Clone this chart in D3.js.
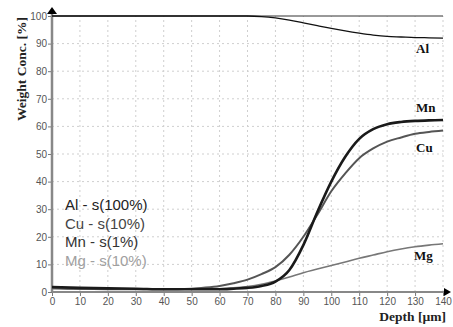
<!DOCTYPE html>
<html>
<head>
<meta charset="utf-8">
<script src="https://cdn.jsdelivr.net/npm/d3@7"></script>
<style>
  body { margin: 0; background: #fff; }
  svg { display: block; }
</style>
</head>
<body>
<svg id="chart" width="453" height="327"></svg>
<script>
// depth in µm, concentration in %
const depth = [0, 10, 20, 30, 40, 50, 55, 60, 65, 70, 75, 80, 85, 90, 95, 100, 105, 110, 115, 120, 125, 130, 135, 140];
const al = [100, 100, 100, 100, 100, 100, 100, 100, 100, 100, 99.8, 99.3, 98.5, 97.5, 96.5, 95.5, 94.6, 93.8, 93.1, 92.6, 92.4, 92.2, 92.1, 92];
const cu = [1.5, 1.2, 1, 1, 1, 1.2, 1.6, 2.2, 3.2, 4.5, 6.5, 9, 13.5, 20, 28, 36.5, 43, 48.5, 52, 54.5, 56, 57.3, 58, 58.5];
const mn = [1.8, 1.5, 1.3, 1.2, 1, 1, 1, 1, 1.2, 1.5, 2.2, 3.8, 8, 17, 29, 40, 49, 55.5, 59, 60.8, 61.6, 62, 62.2, 62.3];
const mg = [1.2, 1, 1, 1, 1, 1, 1, 1.2, 1.5, 2, 2.8, 4, 5.4, 7, 8.3, 9.6, 10.9, 12.2, 13.4, 14.6, 15.6, 16.4, 17, 17.5];

const xTicks = d3.range(0, 141, 10);
const yTicks = d3.range(0, 101, 10);

const legendText = ['Al - s(100%)', 'Cu - s(10%)', 'Mn - s(1%)', 'Mg - s(10%)'];
const lineColor = { Al: '#111', Cu: '#555', Mn: '#1a1a1a', Mg: '#777' };
const lineWidth = { Al: 1.3, Cu: 2, Mn: 2.6, Mg: 1.6 };
const legendColor = ['#222', '#444', '#333', '#a0a0a0'];
const endLabels = [
  { name: 'Al', dx: 0, y: 92, off: 15 },
  { name: 'Mn', dx: 0, y: 62.3, off: -8 },
  { name: 'Cu', dx: 0, y: 58.5, off: 21 },
  { name: 'Mg', dx: -2, y: 17.5, off: 16 }
];

const svg = d3.select('#chart');
const x = d3.scaleLinear().domain([0, 140]).range([52, 443]);
const y = d3.scaleLinear().domain([0, 100]).range([292, 16]);

// grid
const grid = svg.append('g').attr('class', 'grid')
  .attr('stroke', '#cfcfcf').attr('stroke-dasharray', '2,3').attr('stroke-width', 1);
grid.selectAll('line.v').data(xTicks.slice(1)).enter().append('line')
  .attr('x1', d => x(d)).attr('x2', d => x(d)).attr('y1', y(0)).attr('y2', y(100));
grid.selectAll('line.h').data(yTicks.slice(1, -1)).enter().append('line')
  .attr('x1', x(0)).attr('x2', x(140)).attr('y1', d => y(d)).attr('y2', d => y(d));

// top border at 100 %
svg.append('line')
  .attr('x1', x(0)).attr('x2', x(140)).attr('y1', y(100)).attr('y2', y(100))
  .attr('stroke', '#333').attr('stroke-width', 1);

// axes
const yAxis = svg.append('g').attr('transform', `translate(${x(0)},0)`)
  .call(d3.axisLeft(y).tickValues(yTicks).tickSize(4).tickPadding(1));
const xAxis = svg.append('g').attr('transform', `translate(0,${y(0)})`)
  .call(d3.axisBottom(x).tickValues(xTicks).tickSize(4).tickPadding(2));
[yAxis, xAxis].forEach(a => {
  a.select('.domain').remove();
  a.selectAll('line').attr('stroke', '#777');
  a.selectAll('text').attr('fill', '#555')
    .style('font-family', 'Liberation Sans, Arial, sans-serif').style('font-size', '10px');
});

svg.append('line').attr('x1', x(0)).attr('x2', x(0)).attr('y1', 12).attr('y2', y(0))
  .attr('stroke', '#888').attr('stroke-width', 2.5);
svg.append('line').attr('x1', x(0)).attr('x2', 446).attr('y1', y(0)).attr('y2', y(0))
  .attr('stroke', '#888').attr('stroke-width', 2);
svg.append('path').attr('d', `M${x(0) - 5},14 L${x(0)},7 L${x(0) + 5},14 Z`).attr('fill', '#000');
svg.append('path').attr('d', `M444,${y(0) - 4} L451,${y(0)} L444,${y(0) + 4} Z`).attr('fill', '#000');

// curves
const line = d3.line().curve(d3.curveMonotoneX)
  .x((d, i) => x(depth[i])).y(d => y(d));
const values = { Al: al, Cu: cu, Mn: mn, Mg: mg };
['Mg', 'Cu', 'Mn', 'Al'].forEach(n => {
  svg.append('path').datum(values[n]).attr('d', line)
    .attr('fill', 'none').attr('stroke', lineColor[n]).attr('stroke-width', lineWidth[n]);
});

// end labels
svg.selectAll('text.end').data(endLabels).enter().append('text')
  .attr('x', d => 416 + d.dx).attr('y', d => y(d.y) + d.off)
  .attr('text-anchor', 'start')
  .style('font-family', 'Liberation Serif, Times New Roman, serif')
  .style('font-weight', 'bold').style('font-size', '13px').attr('fill', '#111')
  .text(d => d.name);

// legend
svg.selectAll('text.leg').data(legendText).enter().append('text')
  .attr('x', 65).attr('y', (d, i) => 210 + i * 18.5)
  .style('font-family', 'Liberation Sans, Arial, sans-serif').style('font-size', '15px')
  .attr('fill', (d, i) => legendColor[i])
  .text(d => d);

// axis titles
svg.append('text')
  .attr('transform', 'translate(26,69) rotate(-90)')
  .attr('text-anchor', 'middle')
  .style('font-family', 'Liberation Serif, Times New Roman, serif')
  .style('font-weight', 'bold').style('font-size', '13.5px').attr('fill', '#222')
  .text('Weight Conc. [%]');
svg.append('text')
  .attr('x', 446).attr('y', 321).attr('text-anchor', 'end')
  .style('font-family', 'Liberation Serif, Times New Roman, serif')
  .style('font-weight', 'bold').style('font-size', '13.5px').attr('fill', '#222')
  .text('Depth [µm]');
</script>
</body>
</html>
